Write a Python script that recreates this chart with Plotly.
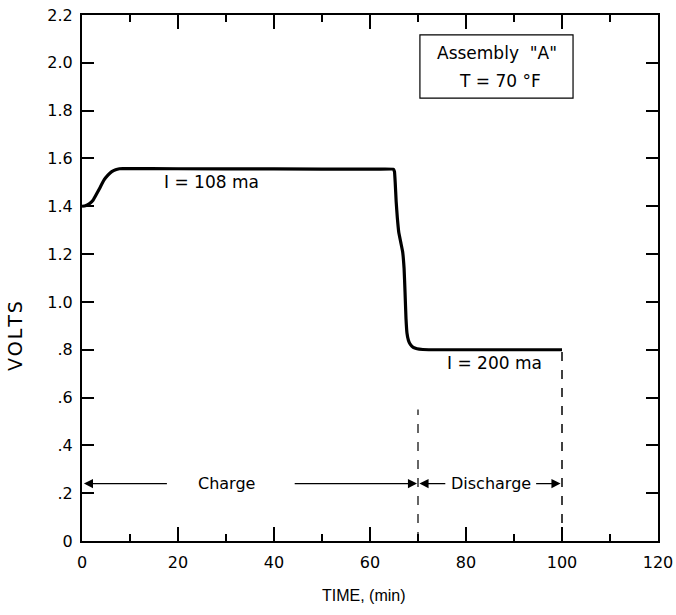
import plotly.graph_objects as go

# Data
time_min = [0, 0.7, 1.5, 2.3, 3.0, 3.8, 4.6, 5.4, 6.2, 7.0, 7.8, 8.5, 20, 40, 60, 64.9,
            65.1, 65.25, 65.45, 65.7, 66.0, 66.4, 66.8, 67.1, 67.3, 67.5, 67.7,
            68.0, 68.4, 69.0, 69.8, 71.0, 73.0, 80, 100]
volts = [1.40, 1.402, 1.41, 1.425, 1.45, 1.48, 1.51, 1.53, 1.545, 1.553, 1.557,
         1.558, 1.557, 1.556, 1.555, 1.555, 1.545, 1.50, 1.42, 1.35, 1.29, 1.25,
         1.21, 1.14, 1.04, 0.93, 0.87, 0.84, 0.822, 0.810, 0.804, 0.801, 0.80, 0.80, 0.80]

x_ticks = [0, 20, 40, 60, 80, 100, 120]
x_ticklabels = ["0", "20", "40", "60", "80", "100", "120"]
x_minor_ticks = [10, 30, 50, 70, 90, 110]
y_ticks = [0, 0.2, 0.4, 0.6, 0.8, 1.0, 1.2, 1.4, 1.6, 1.8, 2.0, 2.2]
y_ticklabels = ["0", ".2", ".4", ".6", ".8", "1.0", "1.2", "1.4", "1.6", "1.8", "2.0", "2.2"]

charge_end = 70
discharge_end = 100
phase_arrow_y = 0.24

FONT = "DejaVu Sans"
FS = 17

fig = go.Figure()
fig.add_trace(go.Scatter(x=time_min, y=volts, mode="lines",
                         line=dict(color="black", width=3.2, shape="spline", smoothing=0.3),
                         hoverinfo="skip", showlegend=False))

# dashed boundaries
fig.add_shape(type="line", x0=charge_end, x1=charge_end, y0=0, y1=0.55,
              line=dict(color="black", width=1.2, dash="dash"))
fig.add_shape(type="line", x0=discharge_end, x1=discharge_end, y0=0, y1=0.80,
              line=dict(color="black", width=1.5, dash="dash"))

def arrow(x_tip, x_tail, y):
    fig.add_annotation(x=x_tip, y=y, ax=x_tail, ay=y, xref="x", yref="y",
                       axref="x", ayref="y", text="", showarrow=True,
                       arrowhead=2, arrowsize=1.3, arrowwidth=1.4, arrowcolor="black")

arrow(0.4, 18, phase_arrow_y)
arrow(69.8, 44, phase_arrow_y)
arrow(70.3, 76, phase_arrow_y)
arrow(99.7, 94.3, phase_arrow_y)

def label(x, y, text, size=FS):
    fig.add_annotation(x=x, y=y, text=text, showarrow=False,
                       font=dict(size=size, color="black", family=FONT))

label(30, phase_arrow_y, "Charge", 16)
label(85.2, phase_arrow_y, "Discharge", 16)
label(27, 1.50, "I = 108 ma")
label(86, 0.745, "I = 200 ma")

# Info box
fig.add_shape(type="rect", x0=70.4, x1=102.3, y0=1.852, y1=2.117,
              line=dict(color="black", width=1.2))
label(86.4, 2.04, 'Assembly  "A"')
label(87.0, 1.925, "T = 70 °F")

axis_common = dict(ticks="inside", tickcolor="black", showline=True, linecolor="black",
                   linewidth=2, mirror="ticks", showgrid=False, zeroline=False,
                   automargin=False,
                   tickfont=dict(size=16, color="black", family=FONT))

fig.update_xaxes(range=[0, 120], tickmode="array", tickvals=x_ticks, ticktext=x_ticklabels,
                 ticklen=14, tickwidth=2, ticklabelstandoff=6,
                 minor=dict(tickmode="array", tickvals=x_minor_ticks,
                            ticks="inside", ticklen=7, tickwidth=2, tickcolor="black",
                            showgrid=False),
                 **axis_common)
fig.update_yaxes(range=[0, 2.2], tickmode="array", tickvals=y_ticks, ticktext=y_ticklabels,
                 ticklen=12, tickwidth=2, ticklabelstandoff=4, **axis_common)

fig.add_annotation(xref="paper", yref="paper", x=-0.116, y=0.39,
                   xanchor="center", yanchor="middle",
                   text="V\u200aO\u200aL\u200aT\u200aS",
                   textangle=-90, showarrow=False,
                   font=dict(size=19, color="black", family=FONT))
fig.add_annotation(xref="paper", yref="paper", x=0.49, y=-0.104,
                   xanchor="center", yanchor="middle", text="TIME, (min)",
                   showarrow=False,
                   font=dict(size=16, color="black", family="Liberation Sans"))

fig.update_layout(width=676, height=615, margin=dict(l=82, r=18, t=15, b=74),
                  plot_bgcolor="white", paper_bgcolor="white",
                  font=dict(family=FONT, color="black"))

fig.write_html("out.html")
